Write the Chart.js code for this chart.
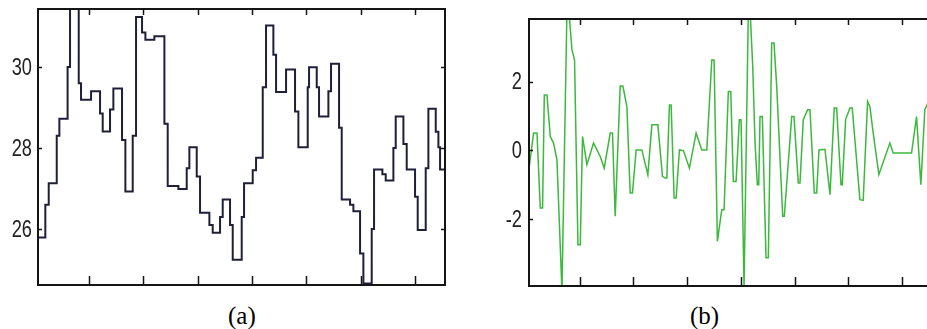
<!DOCTYPE html>
<html><head><meta charset="utf-8">
<script src="https://cdn.jsdelivr.net/npm/chart.js@4/dist/chart.umd.min.js"></script>
<style>
html,body{margin:0;padding:0;background:#fff;width:927px;height:329px;overflow:hidden;position:relative}
.box{position:absolute;top:0;height:295px}
#boxA{left:0;width:470px}
#boxB{left:480px;width:480px}
.cap{position:absolute;font-family:"Liberation Serif","Times New Roman",serif;font-size:25px;color:#000;line-height:1;white-space:nowrap}
</style></head><body>
<div class="box" id="boxA"><canvas id="cA" width="470" height="295"></canvas></div>
<div class="box" id="boxB"><canvas id="cB" width="480" height="295"></canvas></div>
<div class="cap" style="left:228px;top:303px">(a)</div>
<div class="cap" style="left:690px;top:303px">(b)</div>
<script>
// ---- data ----
const xTicks = [20, 40, 60, 80, 100, 120, 140];
const yTicksA = [26, 28, 30];
const yTicksB = [-2, 0, 2];
// panel (a): stepped series, x = start of each step
const xA = [1.2,3.9,5.15,8.1,9.07,12.1,13,16.2,17.05,20.74,24.05,25.03,27.73,28.96,32.15,33.38,36.08,37.31,39.52,40.75,44.06,47.75,48.97,52.9,55.97,56.95,59.66,60.88,64.32,65.55,68.25,69.23,71.93,72.92,76.23,77.09,80.28,81.51,83.97,85.19,87.89,88.88,92.56,95.87,97.1,100.54,101.03,103.86,104.71,108.15,109.13,112.08,113.06,116.13,117.36,119.82,121.04,124.11,124.97,128.04,129.27,132.09,132.95,135.78,137,140.07,141.05,144,144.98,147.69,148.67,149.28,151.1];
const yA = [25.79,26.6,27.13,28.3,28.72,30.0,31.8,29.6,29.19,29.40,28.85,28.41,28.95,29.47,28.2,26.93,28.3,31.23,30.85,30.67,30.76,28.6,27.06,26.99,27.5,28.02,27.3,26.4,26.1,25.91,26.3,26.73,26.1,25.24,26.3,27.13,27.45,27.76,29.5,31.02,30.3,29.38,29.94,28.9,28.02,29.5,29.99,29.5,28.78,29.4,30.08,28.5,26.73,26.6,26.44,25.4,24.66,26.0,27.47,27.35,27.2,28.0,28.78,28.1,27.47,26.8,25.98,27.5,28.97,28.4,28.02,27.47,27.47];
// panel (b)
const xB = [1.31,2.91,4.17,5.4,6.25,6.89,7.89,9.11,10.34,11.6,13.46,15.32,16.0,17.18,18.14,19.41,20.26,21.11,22.75,25.2,27.69,29.18,31.41,32.26,33.26,35.12,36.12,37.61,38.84,39.69,41.06,43.18,45.41,46.9,49.13,50.84,51.84,52.47,53.44,54.07,55.18,55.93,57.15,58.64,60.87,63.36,65.47,67.33,69.19,70.04,71.27,72.9,73.76,75.35,76.25,77.21,78.22,79.44,80.07,81.19,82.79,83.42,84.42,85.28,86.13,86.65,87.13,87.99,89.36,90.22,91.48,92.33,93.34,95.57,96.16,98.91,99.76,101.36,101.99,103.22,104.85,105.71,107.31,108.2,109.06,111.29,113.15,114.74,115.64,117.24,117.72,118.98,120.57,121.43,124.28,125.51,127.14,128.0,129.23,131.34,135.43,136.65,143.49,145.35,146.95,148.43,150.3];
const yB = [-0.47,0.5,0.5,-1.68,-1.68,1.61,1.61,0.4,0.21,-0.28,-4.1,4.1,4.1,2.92,2.63,-2.75,-2.75,0.4,-0.42,0.21,-0.18,-0.52,0.5,0.5,-1.92,1.87,1.87,1.27,-1.24,-1.24,0.01,0.01,-0.71,0.74,0.74,-0.76,-0.81,-0.81,1.32,1.32,-1.39,-1.39,0.01,-0.01,-0.52,0.5,0.01,0.01,2.63,2.63,-2.65,-1.73,-1.73,1.71,1.71,-0.91,-0.91,0.89,0.89,-3.95,4.1,4.1,2.44,0.21,-1.0,-1.0,0.98,0.98,-3.13,-3.13,3.12,3.12,1.86,-1.92,-1.92,0.98,0.98,-0.95,-0.95,0.89,1.18,1.18,-1.24,-1.24,0.01,0.03,-1.29,1.23,1.23,-1.0,-1.0,0.9,1.23,1.23,-1.44,-1.46,1.42,1.27,0.5,-0.71,0.21,-0.08,-0.08,0.98,-1.0,1.18,1.5];

const LABEL_FONT = '24px "Liberation Sans", Arial, sans-serif';

function framePlugin(lblPad) {
  return {
    id: 'frame',
    afterDraw(chart) {
      const {ctx, chartArea: a, scales} = chart;
      ctx.save();
      ctx.strokeStyle = '#151515';
      ctx.lineWidth = 1.5;
      ctx.beginPath();
      scales.x.ticks.forEach(t => {
        const px = Math.round(scales.x.getPixelForValue(t.value)) + 0.5;
        ctx.moveTo(px, a.bottom); ctx.lineTo(px, a.bottom - 9);
        ctx.moveTo(px, a.top); ctx.lineTo(px, a.top + 6);
      });
      scales.y.ticks.forEach(t => {
        const py = Math.round(scales.y.getPixelForValue(t.value)) + 0.5;
        ctx.moveTo(a.left, py); ctx.lineTo(a.left + 4, py);
        ctx.moveTo(a.right, py); ctx.lineTo(a.right - 4, py);
      });
      ctx.stroke();
      ctx.lineWidth = 2;
      ctx.strokeRect(a.left, a.top, a.right - a.left, a.bottom - a.top);
      // y tick labels (narrow, tall digits as in the original)
      ctx.fillStyle = '#222';
      ctx.font = LABEL_FONT;
      ctx.textAlign = 'right';
      ctx.textBaseline = 'middle';
      scales.y.ticks.forEach(t => {
        const py = scales.y.getPixelForValue(t.value);
        ctx.save();
        ctx.translate(a.left - lblPad, py + 1);
        ctx.scale(0.76, 1);
        ctx.fillText(String(t.value), 0, 0);
        ctx.restore();
      });
      ctx.restore();
    }
  };
}

function makeChart(id, xs, ys, yTicks, ymin, ymax, color, width, stepped, axisW, pad, lblPad) {
  return new Chart(document.getElementById(id), {
    type: 'line',
    data: { datasets: [{
      data: xs.map((x, i) => ({x, y: ys[i]})),
      borderColor: color, borderWidth: width, pointRadius: 0,
      tension: 0, stepped: stepped, fill: false
    }]},
    options: {
      responsive: false, animation: false, events: [],
      layout: { padding: pad },
      plugins: { legend: {display: false}, tooltip: {enabled: false} },
      scales: {
        x: {
          type: 'linear', min: 1.2, max: 151.1,
          afterBuildTicks: s => { s.ticks = xTicks.map(v => ({value: v})); },
          afterFit: s => { s.height = 0; s.paddingLeft = 0; s.paddingRight = 0; },
          ticks: {display: false},
          grid: {display: false, drawTicks: false},
          border: {display: false}
        },
        y: {
          type: 'linear', position: 'left', min: ymin, max: ymax,
          afterBuildTicks: s => { s.ticks = yTicks.map(v => ({value: v})); },
          afterFit: s => { s.width = axisW; s.paddingTop = 0; s.paddingBottom = 0; },
          ticks: {display: false},
          grid: {display: false, drawTicks: false},
          border: {display: false}
        }
      }
    },
    plugins: [framePlugin(lblPad)]
  });
}

makeChart('cA', xA, yA, yTicksA, 24.62, 31.43, '#1f1f3a', 2, true, 38, {left: 0, top: 9, right: 25, bottom: 10}, 6);
makeChart('cB', xB, yB, yTicksB, -3.95, 3.82, '#3cb83c', 1.5, false, 49, {left: 0, top: 19, right: 28, bottom: 9}, 7);
</script>
</body></html>
